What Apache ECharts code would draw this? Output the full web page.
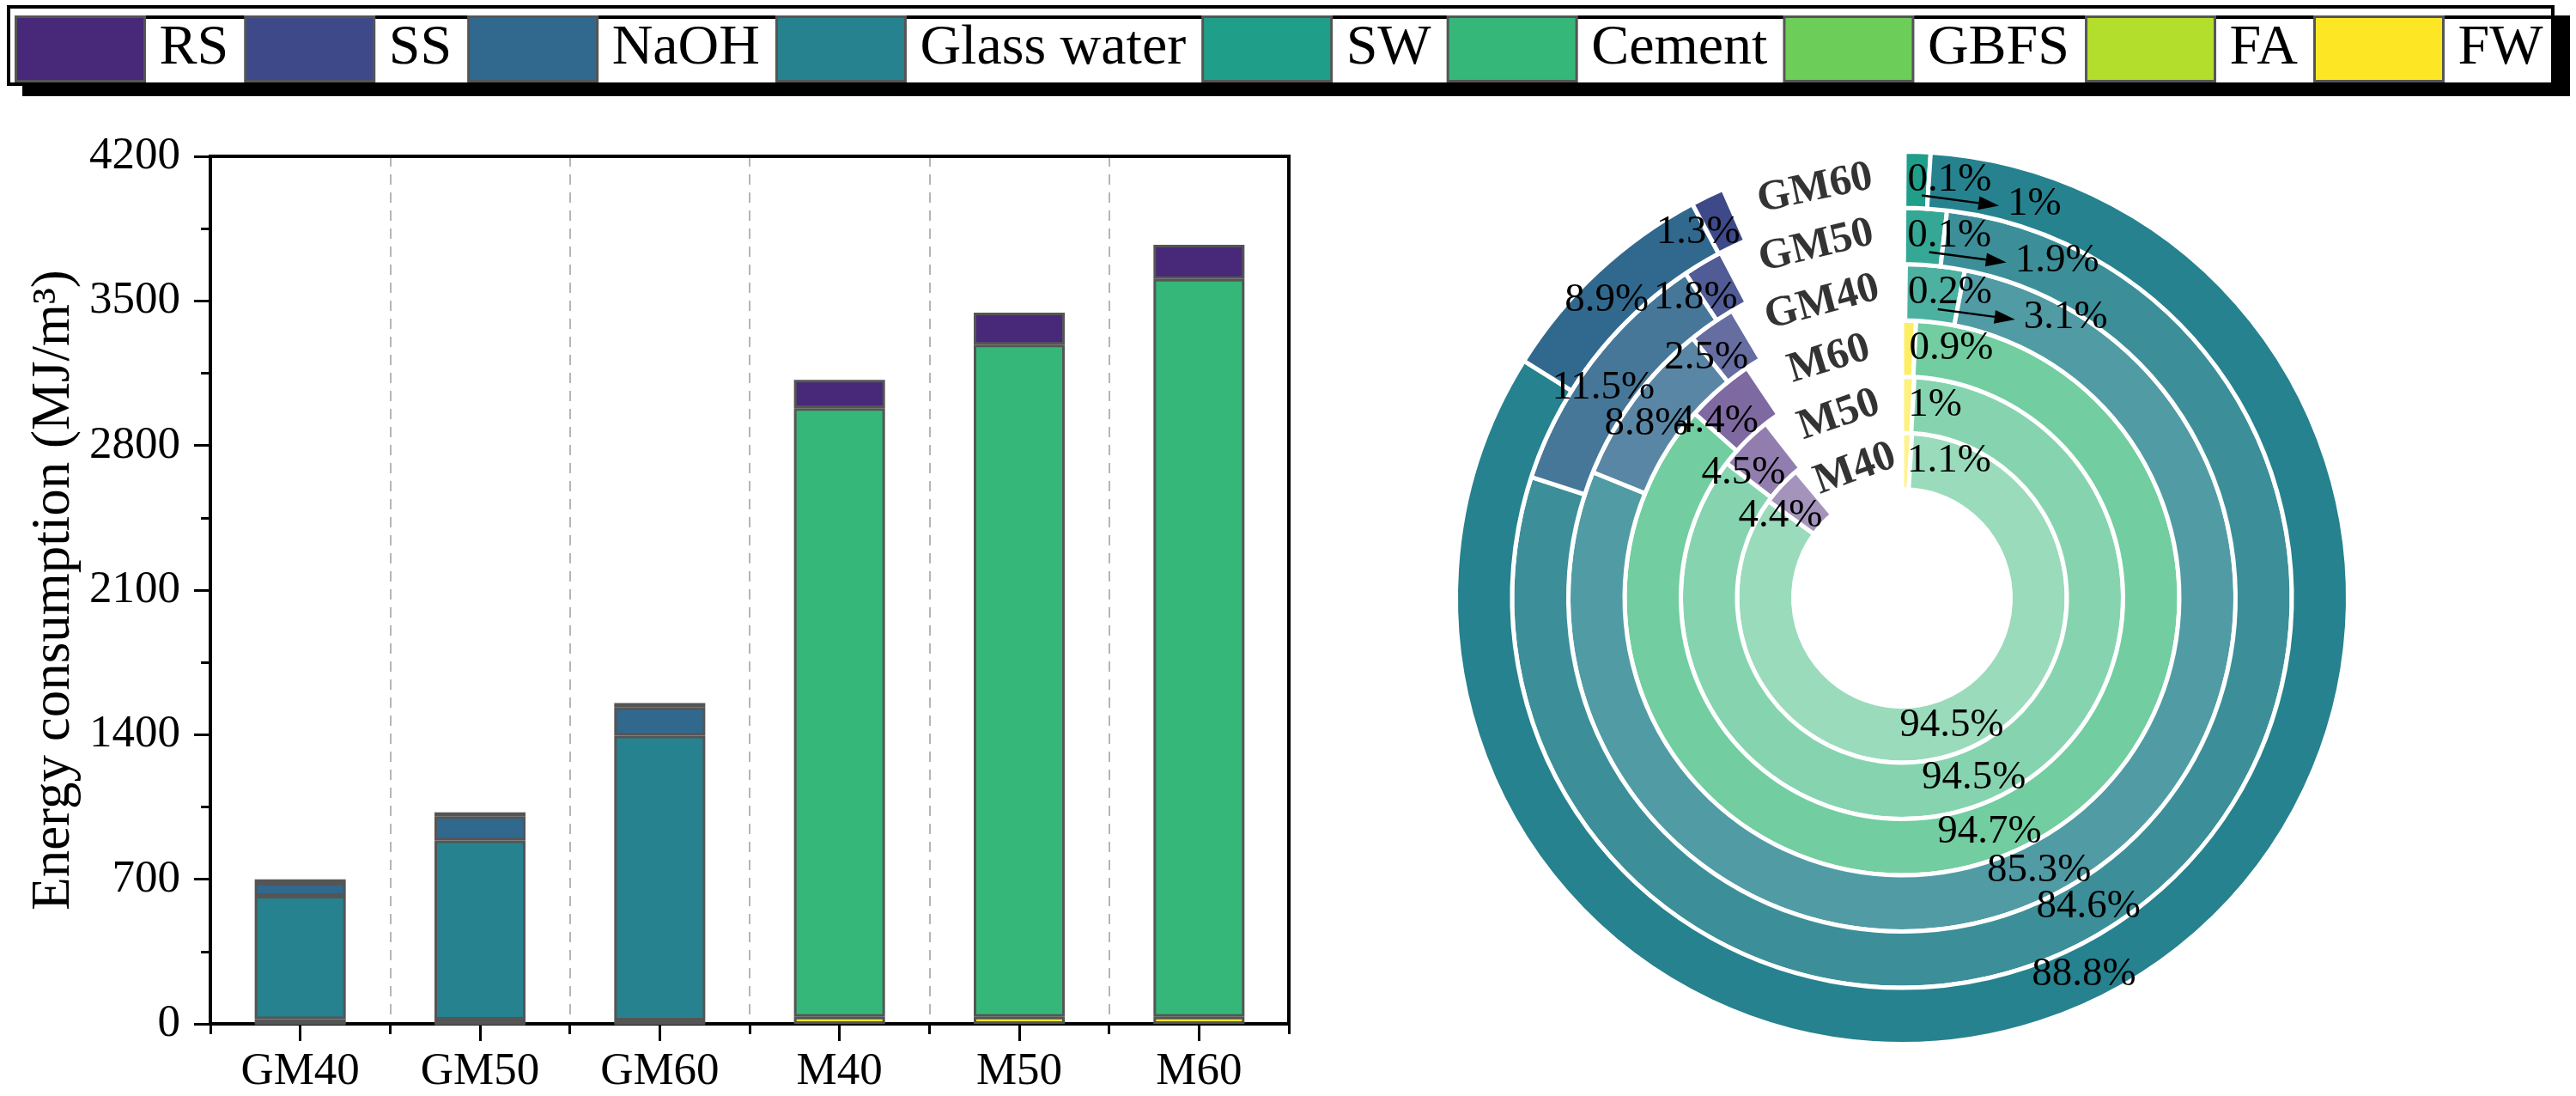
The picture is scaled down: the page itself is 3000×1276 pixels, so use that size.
<!DOCTYPE html>
<html>
<head>
<meta charset="utf-8">
<script src="https://cdn.jsdelivr.net/npm/echarts@6/dist/echarts.min.js"></script>
<style>html,body{margin:0;padding:0;background:#fff;}#chart{width:3000px;height:1276px;}</style>
</head>
<body>
<div id="chart"></div>
<script>
// ---------- data ----------
const categories = ['GM40', 'GM50', 'GM60', 'M40', 'M50', 'M60'];
const components = ['RS', 'SS', 'NaOH', 'Glass water', 'SW', 'Cement', 'GBFS', 'FA', 'FW'];
const colors = ['#482878', '#3E4989', '#31688E', '#26828E', '#1F9E89', '#35B779', '#6DCD59', '#B4DE2C', '#FDE725'];
const yTicks = [0, 700, 1400, 2100, 2800, 3500, 4200];

// energy consumption (MJ/m3) per mix
const energyFW     = [1.4, 1.0, 1.6, 34.3, 34.4, 33.9];
const energyFA     = [null, null, null, null, null, null];
const energyGBFS   = [null, null, null, null, null, null];
const energyCement = [null, null, null, 2946, 3254, 3572];
const energySW     = [21.7, 19.5, 15.5, null, null, null];
const energyGlass  = [597, 867, 1378, null, null, null];
const energyNaOH   = [61.6, 117.9, 138.1, null, null, null];
const energySS     = [17.5, 18.5, 20.2, null, null, null];
const energyRS     = [null, null, null, 137, 155, 166];

// share (%) per ring, inner to outer
const ringNames   = ['M40', 'M50', 'M60', 'GM40', 'GM50', 'GM60'];
const shareFW     = [1.1, 1, 0.9, 0.2, 0.1, 0.1];
const shareFA     = [null, null, null, null, null, null];
const shareGBFS   = [null, null, null, null, null, null];
const shareCement = [94.5, 94.5, 94.7, null, null, null];
const shareSW     = [null, null, null, 3.1, 1.9, 1];
const shareGlass  = [null, null, null, 85.3, 84.6, 88.8];
const shareNaOH   = [null, null, null, 8.8, 11.5, 8.9];
const shareSS     = [null, null, null, 2.5, 1.8, 1.3];
const shareRS     = [4.4, 4.5, 4.4, null, null, null];

// ---------- layout / style ----------
const FONT = 'Liberation Serif';
const ringGapDeg = [40, 38, 34, 30.3, 27.4, 24];
const ringAlpha  = [0.5, 0.6, 0.7, 0.8, 0.9, 1];
const donutCenter = [2215, 696];
const donutInner = 126.5, donutOuter = 519.5;

const stackOrder = ['FW', 'FA', 'GBFS', 'Cement', 'SW', 'Glass water', 'NaOH', 'SS', 'RS'];
const energyBy = {FW: energyFW, FA: energyFA, GBFS: energyGBFS, Cement: energyCement, SW: energySW,
  'Glass water': energyGlass, NaOH: energyNaOH, SS: energySS, RS: energyRS};
const shareBy = {FW: shareFW, FA: shareFA, GBFS: shareGBFS, Cement: shareCement, SW: shareSW,
  'Glass water': shareGlass, NaOH: shareNaOH, SS: shareSS, RS: shareRS};
const colorOf = n => colors[components.indexOf(n)];

function blend(hex, a) {
  const r = parseInt(hex.slice(1, 3), 16), g = parseInt(hex.slice(3, 5), 16), b = parseInt(hex.slice(5, 7), 16);
  const m = v => Math.round(v * a + 255 * (1 - a));
  return 'rgb(' + m(r) + ',' + m(g) + ',' + m(b) + ')';
}

const series = [];
// stacked bars
stackOrder.forEach(n => {
  series.push({
    type: 'bar', name: n, stack: 'total', xAxisIndex: 0, yAxisIndex: 0,
    barWidth: 106, data: energyBy[n],
    itemStyle: {color: colorOf(n), borderColor: '#555', borderWidth: 3},
    emphasis: {disabled: true}
  });
});

// donut rings
const polars = [], angleAxes = [], radiusAxes = [];
const ringW = (donutOuter - donutInner) / ringNames.length;
ringNames.forEach((ring, i) => {
  const maxV = 100 * 360 / (360 - ringGapDeg[i]);
  polars.push({center: donutCenter, radius: [donutInner + i * ringW, donutInner + (i + 1) * ringW]});
  angleAxes.push({polarIndex: i, type: 'value', min: 0, max: maxV, startAngle: 90, clockwise: true, show: false});
  radiusAxes.push({polarIndex: i, type: 'category', data: [ring], show: false});
  const isGM = ring.startsWith('GM');
  stackOrder.forEach(n => {
    const v = shareBy[n][i];
    if (v == null) return;
    let lab = {show: true, position: 'middle', rotate: 0, fontFamily: FONT, fontSize: 47, color: '#000',
      formatter: String(v) + '%'};
    if (n === 'FW') { lab.align = 'left'; lab.offset = [isGM ? 5 : 1, 0]; }
    else if (n === 'SW') { lab.align = 'left'; lab.offset = [106, 28]; }
    else if (n === 'Cement' || n === 'Glass water') { lab.offset = [-10, 5]; }
    else if (n === 'NaOH') { lab.offset = [-12, 10]; }
    else { lab.offset = [-25, 13]; }
    series.push({
      type: 'bar', name: n, coordinateSystem: 'polar', polarIndex: i, stack: 'ring' + i,
      barCategoryGap: '0%', data: [v],
      itemStyle: {color: blend(colorOf(n), ringAlpha[i]), borderColor: '#fff', borderWidth: 5},
      label: lab, z: 3, emphasis: {disabled: true}
    });
  });
  // ring name in the gap
  series.push({
    type: 'scatter', coordinateSystem: 'polar', polarIndex: i, symbolSize: 0, silent: true,
    data: [[0, 100 + (maxV - 100) / 2]],
    label: {show: true, position: 'inside', formatter: ring, rotate: ringGapDeg[i] / 2,
      fontFamily: FONT, fontWeight: 'bold', fontSize: 50, color: '#000'},
    z: 5
  });
  // arrow for the SW share label
  if (shareSW[i] != null) {
    series.push({
      type: 'custom', coordinateSystem: 'polar', polarIndex: i, silent: true, z: 6,
      data: [[0, shareFW[i] + shareSW[i] / 2]],
      renderItem: function (params, api) {
        const p = api.coord([api.value(0), api.value(1)]);
        const x1 = p[0] + 6, y1 = p[1] + 18, x2 = p[0] + 96, y2 = p[1] + 30;
        const a = Math.atan2(y2 - y1, x2 - x1), L = 24, w = 8;
        const bx = x2 - Math.cos(a) * L, by = y2 - Math.sin(a) * L;
        return {type: 'group', children: [
          {type: 'line', shape: {x1: x1, y1: y1, x2: bx, y2: by}, style: {stroke: '#000', lineWidth: 2.5}},
          {type: 'polygon', shape: {points: [[x2, y2],
            [bx - Math.sin(a) * w, by + Math.cos(a) * w], [bx + Math.sin(a) * w, by - Math.cos(a) * w]]},
            style: {fill: '#000'}}
        ]};
      }
    });
  }
});

const chart = echarts.init(document.getElementById('chart'), null, {renderer: 'canvas'});
chart.setOption({
  animation: false,
  backgroundColor: '#fff',
  graphic: [{
    type: 'rect', z: 0, shape: {x: 10, y: 8, width: 2963, height: 90},
    style: {fill: '#fff', stroke: '#000', lineWidth: 4, shadowColor: '#000', shadowBlur: 0, shadowOffsetX: 18, shadowOffsetY: 12}
  }],
  legend: {
    data: components, left: 17, top: 18, padding: 0, itemWidth: 150, itemHeight: 75, itemGap: 18,
    selectedMode: false, icon: 'rect', z: 10,
    itemStyle: {borderColor: '#555', borderWidth: 3},
    textStyle: {fontFamily: FONT, fontSize: 66, color: '#000', padding: [0, 0, 0, 12]}
  },
  grid: {left: 245, right: 1499, top: 182, bottom: 84, show: true, borderColor: '#000', borderWidth: 4, backgroundColor: 'transparent'},
  xAxis: [{
    type: 'category', data: categories, gridIndex: 0, position: 'bottom',
    axisLine: {lineStyle: {color: '#000', width: 4}},
    axisTick: {show: true, length: 12, lineStyle: {color: '#000', width: 3}},
    axisLabel: {show: false},
    splitLine: {show: true, interval: function (idx) { return idx > 0 && idx < categories.length; },
      lineStyle: {color: '#b5b5b5', width: 2, type: [12, 9]}}
  }, {
    type: 'category', data: categories, gridIndex: 0, position: 'bottom',
    axisLine: {show: false},
    axisTick: {show: true, alignWithLabel: true, length: 20, lineStyle: {color: '#000', width: 3}},
    axisLabel: {fontFamily: FONT, fontSize: 53, color: '#000', margin: 30},
    splitLine: {show: false}
  }, {
    type: 'category', data: categories, gridIndex: 0, position: 'top', z: 5,
    axisLine: {show: true, lineStyle: {color: '#000', width: 4}},
    axisTick: {show: false}, axisLabel: {show: false}, splitLine: {show: false}
  }],
  yAxis: [{
    type: 'value', min: yTicks[0], max: yTicks[yTicks.length - 1], interval: yTicks[1] - yTicks[0],
    axisLine: {show: true, lineStyle: {color: '#000', width: 4}},
    axisTick: {show: true, length: 19, lineStyle: {color: '#000', width: 3}},
    minorTick: {show: true, splitNumber: 2, length: 11, lineStyle: {color: '#000', width: 3}},
    axisLabel: {fontFamily: FONT, fontSize: 53, color: '#000', margin: 35, formatter: v => String(v)},
    splitLine: {show: false},
    name: 'Energy consumption (MJ/m\u00B3)', nameLocation: 'middle', nameRotate: 90, nameGap: 150,
    nameTextStyle: {fontFamily: FONT, fontSize: 63, color: '#000'}
  }, {
    type: 'value', min: yTicks[0], max: yTicks[yTicks.length - 1], interval: yTicks[1] - yTicks[0],
    position: 'right', z: 5,
    axisLine: {show: true, lineStyle: {color: '#000', width: 4}},
    axisTick: {show: false}, axisLabel: {show: false}, splitLine: {show: false}
  }],
  polar: polars,
  angleAxis: angleAxes,
  radiusAxis: radiusAxes,
  series: series
});
</script>
</body>
</html>
